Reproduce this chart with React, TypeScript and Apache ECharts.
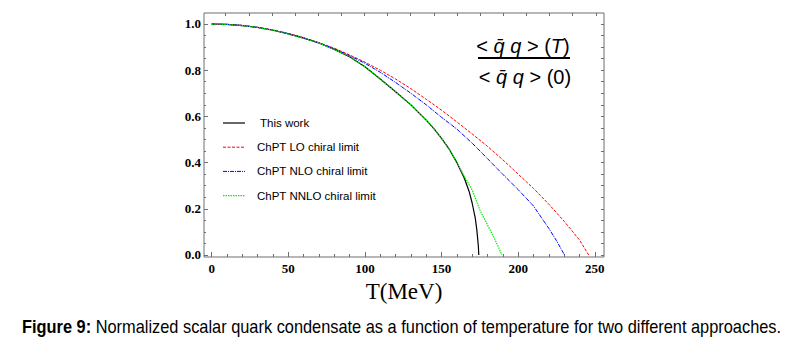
import React, { useEffect, useRef } from "react";
import * as echarts from "echarts";

// ---- Data ----
const T_THIS = [0, 10, 20, 30, 40, 50, 60, 70, 80, 90, 100, 110, 120, 130, 140, 145, 150, 155, 160, 165, 168, 170, 172, 173, 174, 174.3];
const V_THIS = [1.0, 0.998, 0.993, 0.985, 0.973, 0.957, 0.939, 0.918, 0.89, 0.858, 0.815, 0.762, 0.707, 0.65, 0.584, 0.547, 0.505, 0.458, 0.4, 0.33, 0.275, 0.224, 0.16, 0.11, 0.04, 0.0];

const T_LO = [0, 10, 20, 30, 40, 50, 60, 70, 80, 90, 100, 110, 120, 130, 140, 150, 160, 170, 180, 190, 200, 210, 220, 230, 240, 246];
const V_LO = [1.0, 0.998, 0.994, 0.985, 0.974, 0.959, 0.941, 0.919, 0.895, 0.866, 0.835, 0.8, 0.762, 0.72, 0.674, 0.627, 0.576, 0.524, 0.47, 0.412, 0.35, 0.288, 0.22, 0.146, 0.065, 0.0];

const T_NLO = [0, 10, 20, 30, 40, 50, 60, 70, 80, 90, 100, 110, 120, 130, 140, 150, 160, 170, 180, 190, 200, 210, 220, 225, 230.2];
const V_NLO = [1.0, 0.998, 0.994, 0.985, 0.974, 0.959, 0.94, 0.918, 0.893, 0.863, 0.83, 0.791, 0.747, 0.7, 0.65, 0.596, 0.545, 0.484, 0.417, 0.349, 0.283, 0.212, 0.115, 0.062, 0.0];

const T_NNLO = [0, 10, 20, 30, 40, 50, 60, 70, 80, 90, 100, 110, 120, 130, 140, 145, 150, 155, 160, 165, 170, 175, 180, 185, 189.4];
const V_NNLO = [1.0, 0.998, 0.993, 0.985, 0.973, 0.957, 0.939, 0.918, 0.89, 0.858, 0.815, 0.762, 0.707, 0.65, 0.584, 0.547, 0.505, 0.458, 0.402, 0.338, 0.281, 0.195, 0.13, 0.065, 0.0];

const SERIES_NAMES = ["This work", "ChPT LO chiral limit", "ChPT NLO chiral limit", "ChPT NNLO chiral limit"];
const SERIES_COLORS = ["#000000", "#ff0000", "#0000ff", "#00ee00"];
const SERIES_DASH: (number[] | null)[] = [null, [3, 1.5], [4, 1, 1, 1], [1.5, 1]];
const SERIES_WIDTH = [1.2, 1, 1, 1.2];

// ---- Ticks ----
const X_MAJOR = [0, 50, 100, 150, 200, 250];
const X_MINOR = [10, 20, 30, 40, 60, 70, 80, 90, 110, 120, 130, 140, 160, 170, 180, 190, 210, 220, 230, 240];
const X_TOP = [9.1, 24.2, 39.3, 54.4, 69.5, 84.6, 99.7, 114.8, 129.9, 145, 160.1, 175.2, 190.3, 205.4, 220.5, 235.6, 250.7];
const Y_MAJOR = [0, 0.2, 0.4, 0.6, 0.8, 1.0];
const Y_MINOR = [0.05, 0.1, 0.15, 0.25, 0.3, 0.35, 0.45, 0.5, 0.55, 0.65, 0.7, 0.75, 0.85, 0.9, 0.95];
const Y_RIGHT = [0, 0.05, 0.1, 0.15, 0.2, 0.25, 0.3, 0.35, 0.4, 0.45, 0.5, 0.55, 0.6, 0.65, 0.7, 0.75, 0.8, 0.85, 0.9, 0.95, 1.0];

const X_MIN = -5;
const X_MAX = 256;
const Y_MIN = -0.0087;
const Y_MAX = 1.0476;

const FRAME = "#6e6e6e";

function pairs(t: number[], v: number[]) {
  return t.map((x, i) => [x, v[i]]);
}

const SERIES_DATA = [pairs(T_THIS, V_THIS), pairs(T_LO, V_LO), pairs(T_NLO, V_NLO), pairs(T_NNLO, V_NNLO)];

export default function App() {
  const ref = useRef<HTMLDivElement>(null);

  useEffect(() => {
    if (!ref.current) return;
    const chart = echarts.init(ref.current, undefined, { renderer: "svg" });

    const baseX = {
      type: "value",
      min: X_MIN,
      max: X_MAX,
      axisLine: { show: false, onZero: false },
      splitLine: { show: false },
    };
    const baseY = {
      type: "value",
      min: Y_MIN,
      max: Y_MAX,
      axisLine: { show: false, onZero: false },
      splitLine: { show: false },
    };
    const tickLabel = {
      fontFamily: "Liberation Serif",
      fontWeight: "bold",
      fontSize: 13,
      color: "#000",
    };

    // legend drawn as graphic (line sample + text)
    const legendGraphic: any[] = [];
    const legendTop = 123;
    const legendStep = 24.2;
    SERIES_NAMES.forEach((name, i) => {
      const y = legendTop + i * legendStep;
      const st: any = { stroke: SERIES_COLORS[i], lineWidth: SERIES_WIDTH[i] };
      if (SERIES_DASH[i]) st.lineDash = SERIES_DASH[i];
      legendGraphic.push({
        type: "line",
        shape: { x1: 223, y1: y, x2: 245, y2: y },
        style: st,
      });
      legendGraphic.push({
        type: "text",
        x: i === 0 ? 260 : 257,
        y,
        style: {
          text: name,
          verticalAlign: "middle",
          fontFamily: "Liberation Sans",
          fontSize: 11.5,
          fill: "#000",
        },
      });
    });

    chart.setOption({
      animation: false,
      backgroundColor: "#fff",
      grid: {
        left: 204,
        top: 13,
        width: 400,
        height: 244,
        show: true,
        borderColor: FRAME,
        borderWidth: 1,
        backgroundColor: "transparent",
      },
      xAxis: [
        {
          ...baseX,
          position: "bottom",
          axisTick: { show: true, inside: true, length: 5, customValues: X_MAJOR, lineStyle: { color: FRAME } },
          axisLabel: {
            ...tickLabel,
            customValues: X_MAJOR,
            margin: 5,
            formatter: (v: number) => String(Math.round(v)),
          },
          name: "T(MeV)",
          nameLocation: "middle",
          nameGap: 20,
          nameTextStyle: { fontFamily: "Liberation Serif", fontSize: 23, color: "#000" },
        },
        {
          ...baseX,
          position: "bottom",
          axisTick: { show: true, inside: true, length: 3, customValues: X_MINOR, lineStyle: { color: FRAME } },
          axisLabel: { show: false },
        },
        {
          ...baseX,
          position: "top",
          axisTick: { show: true, inside: true, length: 3, customValues: X_TOP, lineStyle: { color: FRAME } },
          axisLabel: { show: false },
        },
      ],
      yAxis: [
        {
          ...baseY,
          position: "left",
          axisTick: { show: true, inside: true, length: 4, customValues: Y_MAJOR, lineStyle: { color: FRAME } },
          axisLabel: {
            ...tickLabel,
            customValues: Y_MAJOR,
            margin: 3,
            formatter: (v: number) => v.toFixed(1),
          },
        },
        {
          ...baseY,
          position: "left",
          axisTick: { show: true, inside: true, length: 2, customValues: Y_MINOR, lineStyle: { color: FRAME } },
          axisLabel: { show: false },
        },
        {
          ...baseY,
          position: "right",
          axisTick: { show: true, inside: true, length: 3, customValues: Y_RIGHT, lineStyle: { color: FRAME } },
          axisLabel: { show: false },
        },
      ],
      series: SERIES_NAMES.map((name, i) => ({
        name,
        type: "line",
        data: SERIES_DATA[i],
        symbol: "none",
        color: SERIES_COLORS[i],
        lineStyle: {
          color: SERIES_COLORS[i],
          width: SERIES_WIDTH[i],
          type: SERIES_DASH[i] || "solid",
        },
      })),
      graphic: [
        ...legendGraphic,
        {
          type: "text",
          x: 523,
          y: 46,
          style: {
            text: "{n|< }{i|q\u0304 q}{n| > (}{i|T}{n|)}",
            align: "center",
            verticalAlign: "middle",
            rich: {
              n: { fontFamily: "Liberation Sans", fontSize: 20, fill: "#000" },
              i: { fontFamily: "Liberation Sans", fontStyle: "italic", fontSize: 20, fill: "#000" },
            },
          },
        },
        {
          type: "line",
          shape: { x1: 478, y1: 58, x2: 570, y2: 58 },
          style: { stroke: "#000", lineWidth: 1.8 },
        },
        {
          type: "text",
          x: 525,
          y: 77,
          style: {
            text: "{n|< }{i|q\u0304 q}{n| > (0)}",
            align: "center",
            verticalAlign: "middle",
            rich: {
              n: { fontFamily: "Liberation Sans", fontSize: 20, fill: "#000" },
              i: { fontFamily: "Liberation Sans", fontStyle: "italic", fontSize: 20, fill: "#000" },
            },
          },
        },
        {
          type: "text",
          x: 22,
          y: 327,
          scaleX: 0.91,
          style: {
            text: "{b|Figure 9:} Normalized scalar quark condensate as a function of temperature for two different approaches.",
            verticalAlign: "middle",
            fontFamily: "Liberation Sans",
            fontSize: 18,
            fill: "#000",
            rich: {
              b: { fontFamily: "Liberation Sans", fontWeight: "bold", fontSize: 18, fill: "#000" },
            },
          },
        },
      ],
    });

    return () => chart.dispose();
  }, []);

  return (
    <div
      ref={ref}
      style={{ position: "fixed", left: 0, top: 0, width: 791, height: 344, background: "#fff" }}
    />
  );
}
